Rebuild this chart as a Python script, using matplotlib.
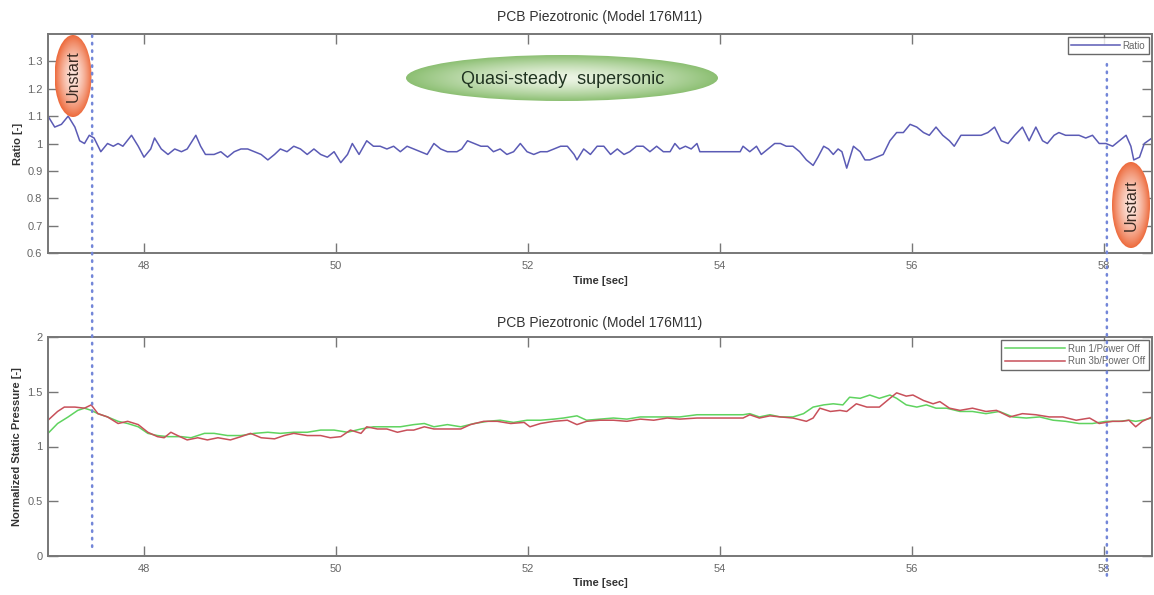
import numpy as np
import matplotlib
matplotlib.use("Agg")
import matplotlib.pyplot as plt
from matplotlib.patches import Ellipse, ConnectionPatch

plt.rcParams['font.family'] = ['Liberation Sans', 'DejaVu Sans']

# --- Ratio signal (top panel) ---
ratio_t = [47.00, 47.07, 47.14, 47.21, 47.28, 47.33, 47.38, 47.43, 47.48, 47.55,
           47.62, 47.68, 47.73, 47.78, 47.87, 47.94, 48.00, 48.07, 48.11, 48.18,
           48.25, 48.32, 48.39, 48.45, 48.54, 48.59, 48.64, 48.73, 48.80, 48.87,
           48.94, 49.01, 49.08, 49.15, 49.22, 49.29, 49.36, 49.42, 49.49, 49.56,
           49.63, 49.70, 49.77, 49.84, 49.91, 49.98, 50.05, 50.12, 50.17, 50.24,
           50.32, 50.39, 50.46, 50.53, 50.60, 50.67, 50.74, 50.81, 50.88, 50.95,
           51.02, 51.09, 51.16, 51.26, 51.31, 51.37, 51.44, 51.51, 51.58, 51.64,
           51.71, 51.78, 51.85, 51.92, 51.99, 52.06, 52.13, 52.20, 52.27, 52.34,
           52.41, 52.48, 52.51, 52.58, 52.65, 52.72, 52.79, 52.86, 52.93, 53.00,
           53.06, 53.13, 53.20, 53.27, 53.34, 53.41, 53.48, 53.53, 53.58, 53.64,
           53.70, 53.76, 53.79, 54.21, 54.24, 54.31, 54.38, 54.43, 54.50, 54.57,
           54.63, 54.69, 54.76, 54.83, 54.90, 54.97, 55.02, 55.08, 55.13, 55.18,
           55.23, 55.27, 55.32, 55.39, 55.46, 55.51, 55.56, 55.63, 55.70, 55.77,
           55.84, 55.91, 55.98, 56.05, 56.12, 56.18, 56.25, 56.32, 56.39, 56.44,
           56.51, 56.58, 56.65, 56.72, 56.79, 56.86, 56.93, 57.00, 57.07, 57.15,
           57.22, 57.29, 57.36, 57.41, 57.48, 57.53, 57.60, 57.67, 57.74, 57.81,
           57.88, 57.95, 58.02, 58.09, 58.16, 58.23, 58.28, 58.31, 58.37, 58.42,
           58.50]
ratio_v = [1.10, 1.06, 1.07, 1.10, 1.06, 1.01, 1.00, 1.03, 1.02, 0.97,
           1.00, 0.99, 1.00, 0.99, 1.03, 0.99, 0.95, 0.98, 1.02, 0.98,
           0.96, 0.98, 0.97, 0.98, 1.03, 0.99, 0.96, 0.96, 0.97, 0.95,
           0.97, 0.98, 0.98, 0.97, 0.96, 0.94, 0.96, 0.98, 0.97, 0.99,
           0.98, 0.96, 0.98, 0.96, 0.95, 0.97, 0.93, 0.96, 1.00, 0.96,
           1.01, 0.99, 0.99, 0.98, 0.99, 0.97, 0.99, 0.98, 0.97, 0.96,
           1.00, 0.98, 0.97, 0.97, 0.98, 1.01, 1.00, 0.99, 0.99, 0.97,
           0.98, 0.96, 0.97, 1.00, 0.97, 0.96, 0.97, 0.97, 0.98, 0.99,
           0.99, 0.96, 0.94, 0.98, 0.96, 0.99, 0.99, 0.96, 0.98, 0.96,
           0.97, 0.99, 0.99, 0.97, 0.99, 0.97, 0.97, 1.00, 0.98, 0.99,
           0.98, 1.00, 0.97, 0.97, 0.99, 0.97, 0.99, 0.96, 0.98, 1.00,
           1.00, 0.99, 0.99, 0.97, 0.94, 0.92, 0.95, 0.99, 0.98, 0.96,
           0.98, 0.97, 0.91, 0.99, 0.97, 0.94, 0.94, 0.95, 0.96, 1.01,
           1.04, 1.04, 1.07, 1.06, 1.04, 1.03, 1.06, 1.03, 1.01, 0.99,
           1.03, 1.03, 1.03, 1.03, 1.04, 1.06, 1.01, 1.00, 1.03, 1.06,
           1.01, 1.06, 1.01, 1.00, 1.03, 1.04, 1.03, 1.03, 1.03, 1.02,
           1.03, 1.00, 1.00, 0.99, 1.01, 1.03, 0.99, 0.94, 0.95, 1.00,
           1.02]

# --- Normalized static pressure (bottom panel) ---
run1_t = [47.00, 47.10, 47.21, 47.31, 47.38, 47.45, 47.52, 47.62, 47.73, 47.83,
          47.94, 48.04, 48.14, 48.25, 48.39, 48.49, 48.63, 48.73, 48.87, 49.01,
          49.15, 49.29, 49.42, 49.56, 49.70, 49.84, 49.98, 50.12, 50.26, 50.39,
          50.53, 50.67, 50.81, 50.92, 51.02, 51.16, 51.30, 51.44, 51.58, 51.71,
          51.85, 51.99, 52.13, 52.27, 52.37, 52.51, 52.61, 52.75, 52.89, 53.03,
          53.17, 53.31, 53.45, 53.58, 53.76, 54.24, 54.31, 54.41, 54.52, 54.63,
          54.76, 54.87, 54.97, 55.08, 55.18, 55.28, 55.35, 55.46, 55.56, 55.66,
          55.77, 55.84, 55.94, 56.05, 56.15, 56.25, 56.36, 56.50, 56.63, 56.77,
          56.91, 57.05, 57.19, 57.33, 57.47, 57.60, 57.74, 57.88, 58.02, 58.16,
          58.26, 58.33, 58.40, 58.50]
run1_v = [1.12, 1.21, 1.27, 1.33, 1.35, 1.33, 1.30, 1.27, 1.23, 1.21,
          1.18, 1.12, 1.10, 1.09, 1.09, 1.08, 1.12, 1.12, 1.10, 1.10,
          1.12, 1.13, 1.12, 1.13, 1.13, 1.15, 1.15, 1.13, 1.16, 1.18,
          1.18, 1.18, 1.20, 1.21, 1.18, 1.20, 1.18, 1.21, 1.23, 1.24,
          1.22, 1.24, 1.24, 1.25, 1.26, 1.28, 1.24, 1.25, 1.26, 1.25,
          1.27, 1.27, 1.27, 1.27, 1.29, 1.29, 1.30, 1.27, 1.29, 1.27,
          1.27, 1.30, 1.36, 1.38, 1.39, 1.38, 1.45, 1.44, 1.47, 1.44,
          1.47, 1.44, 1.38, 1.36, 1.38, 1.35, 1.35, 1.32, 1.32, 1.30,
          1.32, 1.27, 1.26, 1.27, 1.24, 1.23, 1.21, 1.21, 1.23, 1.23,
          1.24, 1.23, 1.24, 1.26]

run3b_t = [47.00, 47.10, 47.17, 47.28, 47.38, 47.45, 47.52, 47.62, 47.73, 47.83,
           47.94, 48.04, 48.14, 48.21, 48.28, 48.35, 48.45, 48.56, 48.66, 48.77,
           48.90, 49.01, 49.11, 49.22, 49.36, 49.46, 49.56, 49.70, 49.84, 49.94,
           50.05, 50.15, 50.26, 50.32, 50.43, 50.53, 50.64, 50.74, 50.81, 50.92,
           51.02, 51.16, 51.30, 51.40, 51.54, 51.68, 51.82, 51.96, 52.02, 52.13,
           52.27, 52.41, 52.51, 52.61, 52.75, 52.89, 53.03, 53.17, 53.31, 53.45,
           53.58, 53.76, 54.24, 54.31, 54.41, 54.52, 54.63, 54.76, 54.90, 54.97,
           55.04, 55.15, 55.25, 55.32, 55.42, 55.53, 55.66, 55.77, 55.84, 55.94,
           56.01, 56.12, 56.22, 56.29, 56.39, 56.50, 56.63, 56.77, 56.88, 57.02,
           57.15, 57.29, 57.43, 57.57, 57.71, 57.85, 57.95, 58.09, 58.19, 58.26,
           58.33, 58.40, 58.50]
run3b_v = [1.24, 1.32, 1.36, 1.36, 1.35, 1.38, 1.30, 1.27, 1.21, 1.23,
           1.20, 1.13, 1.09, 1.08, 1.13, 1.10, 1.06, 1.08, 1.06, 1.08,
           1.06, 1.09, 1.12, 1.08, 1.07, 1.10, 1.12, 1.10, 1.10, 1.08,
           1.09, 1.15, 1.12, 1.18, 1.16, 1.16, 1.13, 1.15, 1.15, 1.18,
           1.16, 1.16, 1.16, 1.20, 1.23, 1.23, 1.21, 1.22, 1.18, 1.21,
           1.23, 1.24, 1.20, 1.23, 1.24, 1.24, 1.23, 1.25, 1.24, 1.26,
           1.25, 1.26, 1.26, 1.29, 1.26, 1.28, 1.27, 1.26, 1.23, 1.26,
           1.35, 1.32, 1.33, 1.32, 1.39, 1.36, 1.36, 1.44, 1.49, 1.46,
           1.47, 1.42, 1.39, 1.41, 1.35, 1.33, 1.35, 1.32, 1.33, 1.27,
           1.30, 1.29, 1.27, 1.27, 1.24, 1.26, 1.21, 1.23, 1.23, 1.24,
           1.18, 1.23, 1.27]

# Event markers (unstart times)
unstart_t = [47.46, 58.03]

x_ticks = [48, 50, 52, 54, 56, 58]
ratio_ticks = [0.6, 0.7, 0.8, 0.9, 1.0, 1.1, 1.2, 1.3]
ratio_ticklabels = ['0.6', '0.7', '0.8', '0.9', '1', '1.1', '1.2', '1.3']
press_ticks = [0, 0.5, 1, 1.5, 2]
press_ticklabels = ['0', '0.5', '1', '1.5', '2']

W, H = 1154, 595
fig = plt.figure(figsize=(W / 100, H / 100), dpi=100)
fig.patch.set_facecolor('white')

FRAME = '#777777'


def style_axes(ax):
    for s in ax.spines.values():
        s.set_color(FRAME)
        s.set_linewidth(1.4)
    ax.tick_params(direction='in', length=7, width=1.0, color=FRAME,
                   top=True, right=True, labelsize=8, labelcolor='#666666', pad=4)


def px_axes(left, top, right, bottom):
    return [left / W, 1 - bottom / H, (right - left) / W, (bottom - top) / H]


ax1 = fig.add_axes(px_axes(48, 34, 1152, 253))
ax2 = fig.add_axes(px_axes(48, 337, 1152, 556))

# Top panel
ax1.plot(ratio_t, ratio_v, color='#5b5bb5', lw=1.1, label='Ratio')
ax1.set_xlim(47, 58.5)
ax1.set_ylim(0.6, 1.4)
ax1.set_xticks(x_ticks)
ax1.set_yticks(ratio_ticks)
ax1.set_yticklabels(ratio_ticklabels)
style_axes(ax1)
ax1.tick_params(axis='x', pad=6)
ax1.set_title('PCB Piezotronic (Model 176M11)', fontsize=10, color='#333333', pad=9)
ax1.set_xlabel('Time [sec]', fontsize=8, fontweight='bold', color='#333333', labelpad=3)
ax1.set_ylabel('Ratio [-]', fontsize=8, fontweight='bold', color='#333333', labelpad=3)
leg1 = ax1.legend(loc='upper right', fontsize=7, frameon=True, fancybox=False,
                  borderaxespad=0.35, handlelength=5.0, borderpad=0.35,
                  handletextpad=0.3)
leg1.get_frame().set_edgecolor('#444444')
leg1.get_frame().set_linewidth(1.0)
for t in leg1.get_texts():
    t.set_color('#666666')

# Bottom panel
ax2.plot(run1_t, run1_v, color='#5fd35f', lw=1.1, label='Run 1/Power Off')
ax2.plot(run3b_t, run3b_v, color='#c8505a', lw=1.1, label='Run 3b/Power Off')
ax2.set_xlim(47, 58.5)
ax2.set_ylim(0, 2)
ax2.set_xticks(x_ticks)
ax2.set_yticks(press_ticks)
ax2.set_yticklabels(press_ticklabels)
style_axes(ax2)
ax2.tick_params(axis='x', pad=6)
ax2.set_title('PCB Piezotronic (Model 176M11)', fontsize=10, color='#333333', pad=7)
ax2.set_xlabel('Time [sec]', fontsize=8, fontweight='bold', color='#333333', labelpad=3)
ax2.set_ylabel('Normalized Static Pressure [-]', fontsize=8, fontweight='bold',
               color='#333333', labelpad=4)
leg2 = ax2.legend(loc='upper right', fontsize=7, frameon=True, fancybox=False,
                  borderaxespad=0.35, handlelength=6.2, borderpad=0.35,
                  handletextpad=0.3, labelspacing=0.25)
leg2.get_frame().set_edgecolor('#444444')
leg2.get_frame().set_linewidth(1.0)
for t in leg2.get_texts():
    t.set_color('#666666')

# Dotted event lines spanning both panels
for x0, ytop, ybot in [(unstart_t[0], 1.395, 0.07),
                       (unstart_t[1], 1.29, -0.2)]:
    con = ConnectionPatch(xyA=(x0, ytop), coordsA=ax1.transData,
                          xyB=(x0, ybot), coordsB=ax2.transData,
                          linestyle=(0, (0.6, 2.4)), color='#7386d8', lw=1.8,
                          capstyle='round', zorder=10)
    fig.add_artist(con)

# Overlay in pixel coordinates for the annotation bubbles
ov = fig.add_axes([0, 0, 1, 1], zorder=5)
ov.set_xlim(0, W)
ov.set_ylim(H, 0)
ov.axis('off')
ov.patch.set_alpha(0)


def bubble(cx, cy, w, h, center_rgb, edge_rgb, power=1.6):
    n = 200
    xs = np.linspace(-1, 1, n)
    X, Y = np.meshgrid(xs, xs)
    r = np.clip(np.sqrt(X ** 2 + Y ** 2), 0, 1) ** power
    c0 = np.array(center_rgb)[None, None, :]
    c1 = np.array(edge_rgb)[None, None, :]
    img = c0 * (1 - r[..., None]) + c1 * r[..., None]
    im = ov.imshow(img, extent=(cx - w / 2, cx + w / 2, cy + h / 2, cy - h / 2),
                   interpolation='bilinear', zorder=6)
    e = Ellipse((cx, cy), w, h, transform=ov.transData, facecolor='none',
                edgecolor='none')
    ov.add_patch(e)
    im.set_clip_path(e)


orange_c = (0.99, 0.90, 0.87)
orange_e = (0.93, 0.42, 0.24)
bubble(73, 76, 37, 82, orange_c, orange_e)
bubble(1131, 205, 38, 86, orange_c, orange_e)
ov.text(73, 76, 'Unstart', rotation=90, ha='center', va='center', fontsize=11.5,
        color='#3a2a22', zorder=7)
ov.text(1131, 205, 'Unstart', rotation=90, ha='center', va='center', fontsize=11.5,
        color='#3a2a22', zorder=7)

bubble(562, 78, 312, 46, (0.93, 0.96, 0.90), (0.55, 0.75, 0.45), power=1.4)
ov.text(563, 79, 'Quasi-steady  supersonic', ha='center', va='center', fontsize=13,
        color='#1f3320', zorder=7)

fig.savefig('out.png', dpi=100, facecolor='white')
